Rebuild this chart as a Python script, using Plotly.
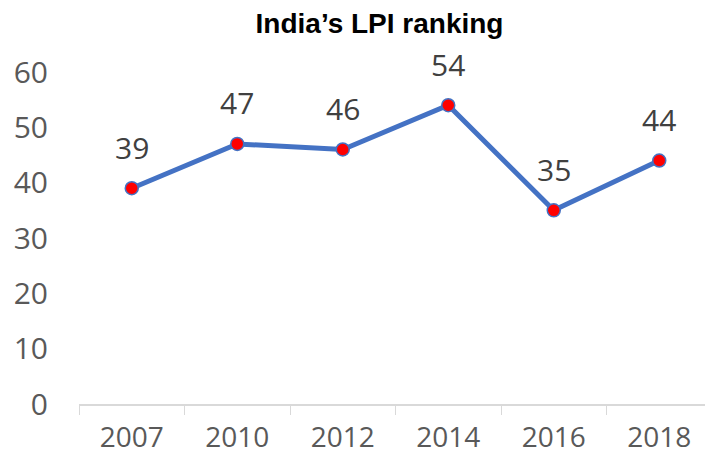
import plotly.graph_objects as go

years = ["2007", "2010", "2012", "2014", "2016", "2018"]
ranking = [39, 47, 46, 54, 35, 44]
y_ticks = [0, 10, 20, 30, 40, 50, 60]

FONT = "Open Sans, Noto Sans, sans-serif"

fig = go.Figure()
fig.add_trace(go.Scatter(
    x=years, y=ranking, mode="lines+markers",
    line=dict(color="#4472C4", width=5),
    marker=dict(size=13, color="#FF0000", line=dict(color="#4472C4", width=1.5)),
    hoverinfo="x+y", showlegend=False,
))

for i, y in enumerate(ranking):
    fig.add_annotation(x=i, y=y, xref="x", yref="y", text=str(y), showarrow=False,
                       yshift=41,
                       font=dict(family=FONT, size=30, color="#404040"))

fig.update_layout(
    width=705, height=451,
    margin=dict(l=71, r=1, t=64, b=55, autoexpand=False),
    paper_bgcolor="white", plot_bgcolor="white",
    title=dict(text="<b>India’s LPI ranking</b>", x=0.527, xanchor="center",
               y=0.9667, yanchor="middle",
               font=dict(family="Liberation Sans, Arial, sans-serif", size=28, color="#000000")),
    xaxis=dict(type="category", range=[-0.5, 5.5], showgrid=False, automargin=False,
               showline=True, linecolor="#D9D9D9", linewidth=1.5,
               ticks="outside", tickson="boundaries", ticklen=9, tickcolor="#D9D9D9",
               ticklabelstandoff=8,
               tickfont=dict(family=FONT, size=28, color="#595959"),
               fixedrange=True),
    yaxis=dict(range=[0, 60], tickvals=y_ticks, showgrid=False, zeroline=False,
               automargin=False,
               showline=False, ticks="", ticklabelstandoff=30,
               tickfont=dict(family=FONT, size=30, color="#595959"),
               fixedrange=True),
)

fig.write_html("out.html")
